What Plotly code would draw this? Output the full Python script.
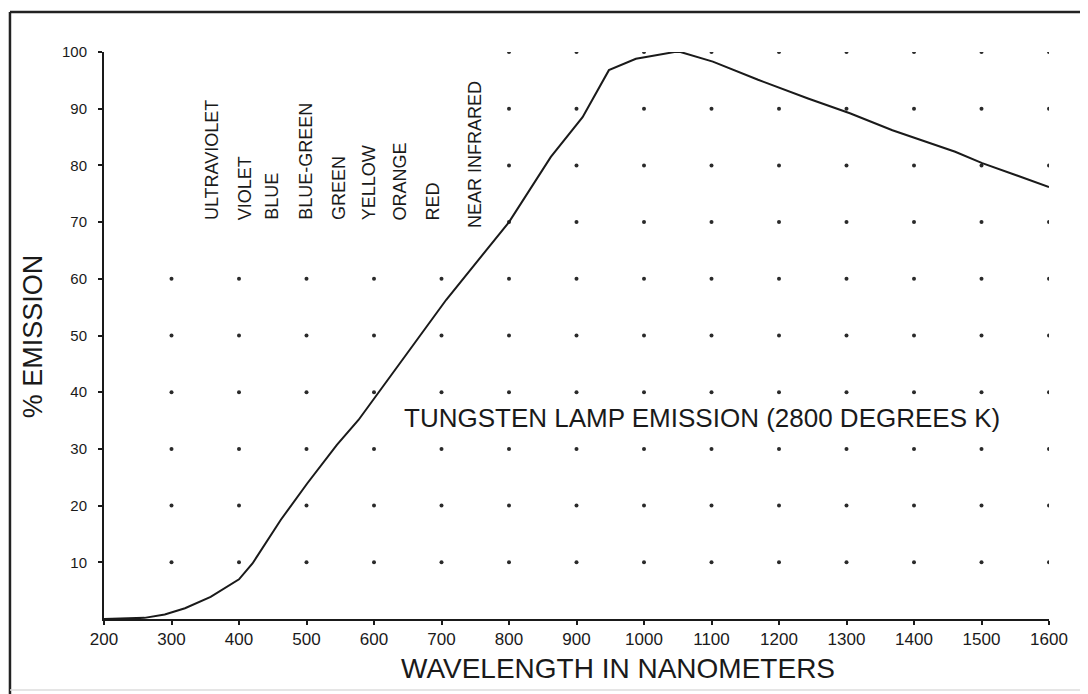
import plotly.graph_objects as go

# ---- data ----
wavelength = [200, 260, 290, 320, 358, 400, 420, 462, 501, 545, 577, 600, 650, 707,
              800, 862, 909, 948, 988, 1003, 1045, 1054, 1102, 1169, 1243, 1305,
              1368, 1461, 1501, 1600]
emission = [0, 0.2, 0.8, 1.9, 3.9, 7.0, 9.8, 17.5, 23.9, 30.7, 35.1, 38.8, 47.0, 56.3,
            70.0, 81.5, 88.5, 96.8, 98.8, 99.1, 100.0, 100.0, 98.3, 95.1, 91.8, 89.2,
            86.2, 82.4, 80.4, 76.2]

x_ticks = [200, 300, 400, 500, 600, 700, 800, 900, 1000, 1100, 1200, 1300, 1400, 1500, 1600]
y_ticks = [10, 20, 30, 40, 50, 60, 70, 80, 90, 100]

band_labels = ["ULTRAVIOLET", "VIOLET", "BLUE", "BLUE-GREEN", "GREEN",
               "YELLOW", "ORANGE", "RED", "NEAR INFRARED"]
band_x = [360, 409, 449, 498, 548, 592, 639, 688, 749]
band_bottom = [70, 70, 70, 70, 70, 70, 70, 70, 68.6]

curve_label = "TUNGSTEN LAMP EMISSION (2800 DEGREES K)"
x_title = "WAVELENGTH IN NANOMETERS"
y_title = "% EMISSION"

# dot grid: lower rows span 300..1600, upper rows only 800..1600
dot_x, dot_y = [], []
for yv in y_ticks:
    for xv in x_ticks[1:]:
        if yv <= 60 or xv >= 800:
            dot_x.append(xv)
            dot_y.append(yv)

FONT = "Liberation Sans, Arial, sans-serif"
INK = "#1a1a1a"

fig = go.Figure()
fig.add_trace(go.Scatter(x=dot_x, y=dot_y, mode="markers",
                         marker=dict(size=4, color="#2a2a2a"),
                         hoverinfo="skip", showlegend=False))
fig.add_trace(go.Scatter(x=wavelength, y=emission, mode="lines",
                         line=dict(color=INK, width=2),
                         showlegend=False))

annotations = []
for txt, xv, yb in zip(band_labels, band_x, band_bottom):
    annotations.append(dict(x=xv, y=yb, xref="x", yref="y", text=txt,
                            textangle=-90, xanchor="center", yanchor="bottom",
                            showarrow=False,
                            font=dict(family=FONT, size=18, color=INK)))
annotations.append(dict(x=1086, y=35.4, xref="x", yref="y", text=curve_label,
                        xanchor="center", yanchor="middle", showarrow=False,
                        font=dict(family=FONT, size=26, color=INK)))
annotations.append(dict(x=0.544, y=-0.088, xref="paper", yref="paper", text=x_title,
                        xanchor="center", yanchor="middle", showarrow=False,
                        font=dict(family=FONT, size=28, color=INK)))
annotations.append(dict(x=-0.075, y=0.499, xref="paper", yref="paper", text=y_title,
                        textangle=-90, xanchor="center", yanchor="middle", showarrow=False,
                        font=dict(family=FONT, size=27, color=INK)))

shapes = [
    # outer frame of the scanned figure
    dict(type="line", xref="paper", yref="paper", x0=-0.0995, x1=-0.0995, y0=1.0705, y1=-0.16,
         line=dict(color="#222222", width=2.5)),
    dict(type="line", xref="paper", yref="paper", x0=-0.0995, x1=1.05, y0=1.0705, y1=1.0705,
         line=dict(color="#222222", width=2.5)),
    dict(type="line", xref="paper", yref="paper", x0=-0.0995, x1=1.05, y0=-0.125, y1=-0.125,
         line=dict(color="#dddddd", width=1.5)),
    dict(type="line", xref="paper", yref="paper", x0=1.0395, x1=1.0395, y0=1.0705, y1=-0.125,
         line=dict(color="#dddddd", width=1.5)),
]

# page body has an 8px margin, so the figure is offset by 8px in x and y
fig.update_layout(
    width=1080, height=686,
    margin=dict(l=96, r=39, t=44, b=75),
    paper_bgcolor="white", plot_bgcolor="white",
    annotations=annotations, shapes=shapes,
    font=dict(family=FONT, color=INK),
)
fig.update_xaxes(range=[200, 1600], tickvals=x_ticks, ticktext=[str(v) for v in x_ticks],
                 showgrid=False, zeroline=False, showline=True, linecolor=INK, linewidth=2,
                 ticks="outside", ticklen=4, tickcolor=INK, tickwidth=1.5,
                 tickfont=dict(family=FONT, size=17, color=INK), ticklabelstandoff=0)
fig.update_yaxes(range=[0, 100], tickvals=y_ticks, ticktext=[str(v) for v in y_ticks],
                 showgrid=False, zeroline=False, showline=True, linecolor=INK, linewidth=2,
                 ticks="outside", ticklen=4, tickcolor=INK, tickwidth=1.5,
                 tickfont=dict(family=FONT, size=15, color=INK), ticklabelstandoff=8)

fig.write_html("out.html")
